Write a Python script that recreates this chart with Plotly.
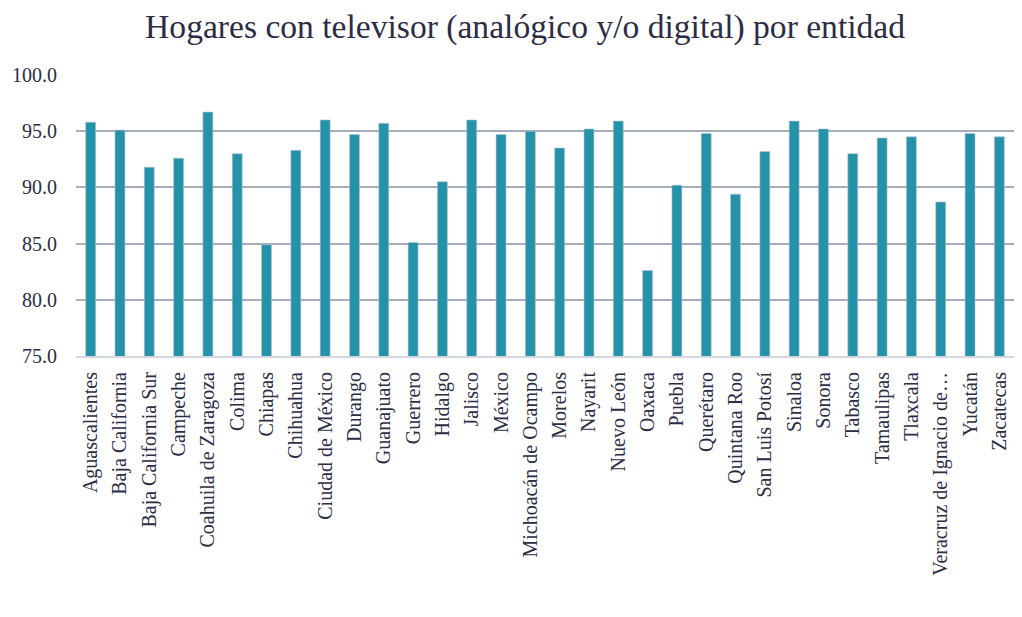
import plotly.graph_objects as go

estados = ["Aguascalientes", "Baja California", "Baja California Sur", "Campeche",
           "Coahuila de Zaragoza", "Colima", "Chiapas", "Chihuahua", "Ciudad de México",
           "Durango", "Guanajuato", "Guerrero", "Hidalgo", "Jalisco", "México",
           "Michoacán de Ocampo", "Morelos", "Nayarit", "Nuevo León", "Oaxaca", "Puebla",
           "Querétaro", "Quintana Roo", "San Luis Potosí", "Sinaloa", "Sonora", "Tabasco",
           "Tamaulipas", "Tlaxcala", "Veracruz de Ignacio de…", "Yucatán", "Zacatecas"]

hogares_tv = [95.8, 95.1, 91.8, 92.6, 96.7, 93.0, 84.9, 93.3, 96.0,
              94.7, 95.7, 85.1, 90.5, 96.0, 94.7, 95.0, 93.5, 95.2, 95.9, 82.6, 90.2,
              94.8, 89.4, 93.2, 95.9, 95.2, 93.0, 94.4, 94.5, 88.7, 94.8, 94.5]

y_ticks = [75, 80, 85, 90, 95, 100]

title_text = "Hogares con televisor (analógico y/o digital) por entidad"

serif = "Liberation Serif"
text_color = "#2d2c45"
fig = go.Figure()
fig.add_trace(go.Bar(
    x=list(range(len(estados))), y=hogares_tv,
    marker=dict(color="#2492a8", line=dict(color="#b9c3cc", width=0.6)),
))

# page body has an 8px default margin, so the figure is sized to fit inside it
fig.update_layout(
    width=1006, height=595,
    paper_bgcolor="white", plot_bgcolor="white",
    margin=dict(l=68, r=0, t=67, b=247, autoexpand=False),
    bargap=0.66,
    showlegend=False,
    font=dict(family=serif, color=text_color, size=20),
    title=dict(text=title_text, x=0.514, xanchor="center", y=0.970, yanchor="middle",
               font=dict(family=serif, size=33.6, color=text_color)),
)
fig.update_yaxes(
    range=[75, 100], tickvals=y_ticks, tickformat=".1f",
    showgrid=True, gridcolor="#a8abbb", gridwidth=2,
    zeroline=False, showline=False, automargin=False,
    ticks="outside", ticklen=14, tickcolor="rgba(0,0,0,0)",
    tickfont=dict(family=serif, size=20, color=text_color),
)
fig.update_xaxes(
    range=[-0.5, 31.5],
    tickvals=list(range(len(estados))), ticktext=estados,
    tickangle=-90, showgrid=False, zeroline=False, automargin=False,
    showline=True, linecolor="#d3d6e0", linewidth=2,
    ticks="outside", ticklen=6, tickcolor="rgba(0,0,0,0)",
    tickfont=dict(family=serif, size=20, color=text_color),
)

fig.write_html("out.html")
